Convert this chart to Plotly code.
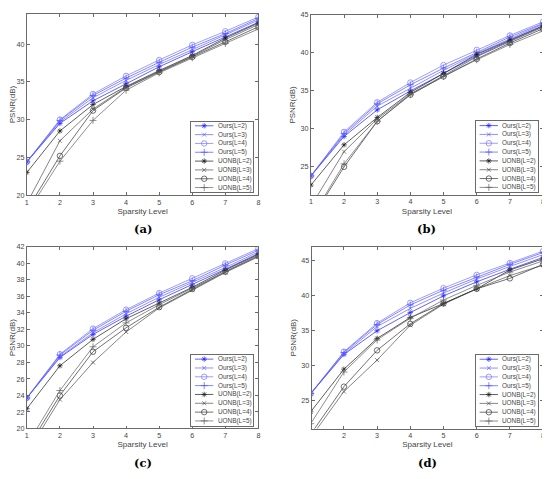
import plotly.graph_objects as go

# sparsity levels shared by every panel
SPARSITY = [1, 2, 3, 4, 5, 6, 7, 8]

# panel (a)
ours_a_L2 = [24.4, 29.5, 32.5, 34.8, 37.0, 39.0, 41.0, 42.9]
ours_a_L3 = [24.4, 29.7, 32.9, 35.2, 37.3, 39.3, 41.2, 43.2]
ours_a_L4 = [24.4, 30.0, 33.4, 35.8, 37.9, 39.9, 41.7, 43.6]
ours_a_L5 = [24.4, 29.9, 33.2, 35.5, 37.6, 39.6, 41.4, 43.4]
uonb_a_L2 = [23.0, 28.5, 32.0, 34.4, 36.5, 38.5, 40.8, 42.8]
uonb_a_L3 = [18.9, 27.2, 31.4, 34.3, 36.4, 38.4, 40.6, 42.6]
uonb_a_L4 = [18.0, 25.2, 31.2, 34.2, 36.3, 38.3, 40.3, 42.3]
uonb_a_L5 = [17.6, 24.5, 29.9, 33.9, 36.2, 38.2, 40.1, 42.0]

# panel (b)
ours_b_L2 = [23.8, 29.0, 32.5, 35.0, 37.3, 39.6, 41.6, 43.5]
ours_b_L3 = [23.8, 29.2, 33.0, 35.4, 37.7, 39.9, 41.9, 43.8]
ours_b_L4 = [23.8, 29.6, 33.5, 36.1, 38.4, 40.4, 42.3, 44.1]
ours_b_L5 = [23.8, 29.4, 33.3, 35.8, 38.0, 40.1, 42.1, 43.9]
uonb_b_L2 = [22.6, 27.9, 31.5, 34.8, 37.3, 39.8, 41.7, 43.6]
uonb_b_L3 = [19.8, 27.0, 31.3, 34.6, 37.0, 39.5, 41.5, 43.4]
uonb_b_L4 = [18.0, 25.0, 31.0, 34.5, 36.9, 39.2, 41.3, 43.2]
uonb_b_L5 = [18.2, 25.4, 31.0, 34.5, 36.9, 39.1, 41.1, 42.9]

# panel (c)
ours_c_L2 = [23.7, 28.6, 31.4, 33.6, 35.6, 37.4, 39.3, 41.2]
ours_c_L3 = [23.7, 28.7, 31.6, 33.9, 35.9, 37.7, 39.5, 41.4]
ours_c_L4 = [23.7, 29.0, 32.1, 34.4, 36.4, 38.2, 40.0, 41.8]
ours_c_L5 = [23.7, 28.9, 31.9, 34.2, 36.2, 37.9, 39.8, 41.6]
uonb_c_L2 = [22.4, 27.6, 30.8, 33.3, 35.2, 37.1, 39.2, 41.1]
uonb_c_L3 = [17.0, 23.5, 28.0, 31.7, 34.6, 36.8, 38.9, 40.8]
uonb_c_L4 = [17.5, 24.0, 29.3, 32.2, 34.7, 36.9, 39.0, 40.9]
uonb_c_L5 = [18.0, 24.6, 29.9, 32.8, 35.0, 37.0, 39.0, 41.0]

# panel (d)
ours_d_L2 = [26.0, 31.6, 35.0, 37.6, 40.0, 42.0, 43.8, 45.5]
ours_d_L3 = [26.0, 31.7, 35.6, 38.2, 40.4, 42.4, 44.2, 45.9]
ours_d_L4 = [26.0, 32.0, 36.1, 39.0, 41.1, 43.0, 44.7, 46.4]
ours_d_L5 = [26.0, 31.9, 35.9, 38.7, 40.8, 42.7, 44.5, 46.2]
uonb_d_L2 = [23.4, 29.5, 33.9, 36.9, 38.9, 41.0, 43.7, 45.3]
uonb_d_L3 = [19.7, 26.3, 30.8, 35.8, 38.8, 41.0, 42.9, 44.4]
uonb_d_L4 = [20.2, 27.0, 32.2, 36.0, 38.9, 41.0, 42.5, 44.5]
uonb_d_L5 = [21.7, 29.1, 33.7, 36.8, 39.4, 41.5, 43.4, 45.0]

SERIES_NAMES = ["Ours(L=2)", "Ours(L=3)", "Ours(L=4)", "Ours(L=5)",
                "UONB(L=2)", "UONB(L=3)", "UONB(L=4)", "UONB(L=5)"]
CAPTIONS = ["(a)", "(b)", "(c)", "(d)"]
Y_TICKS = [[20, 25, 30, 35, 40], [25, 30, 35, 40, 45],
           [20, 22, 24, 26, 28, 30, 32, 34, 36, 38, 40, 42], [25, 30, 35, 40, 45]]

panels = [
    [ours_a_L2, ours_a_L3, ours_a_L4, ours_a_L5, uonb_a_L2, uonb_a_L3, uonb_a_L4, uonb_a_L5],
    [ours_b_L2, ours_b_L3, ours_b_L4, ours_b_L5, uonb_b_L2, uonb_b_L3, uonb_b_L4, uonb_b_L5],
    [ours_c_L2, ours_c_L3, ours_c_L4, ours_c_L5, uonb_c_L2, uonb_c_L3, uonb_c_L4, uonb_c_L5],
    [ours_d_L2, ours_d_L3, ours_d_L4, ours_d_L5, uonb_d_L2, uonb_d_L3, uonb_d_L4, uonb_d_L5],
]

COLORS = ["#2020ff", "#6262ff", "#7272ff", "#5050ff", "#1a1a1a", "#505050", "#333333", "#5e5e5e"]
SYMBOLS = ["asterisk-open", "x-thin-open", "circle-open", "cross-thin-open"] * 2
SIZES = [4.5, 4, 5.5, 5] * 2

# the page body has an 8px margin, so the figure sits 8px in from the window corner
OFF = 8
W, H = 550 - OFF, 479 - OFF
# plot boxes in window pixels: left, right, top, bottom
BOXES = [(24, 257.7, 10, 194.7), (310.7, 545, 11, 194.5),
         (24, 257.7, 247.5, 432.6), (311.5, 545, 247.5, 432.7)]
X_RANGES = [[1, 8], [1, 8], [1, 8], [1.03, 8]]
Y_RANGES = [[20, 44], [21.3, 45], [20, 42], [21, 47]]
LEG_W, LEG_H = 63, 72

AX_COLOR = "#6a6a6a"
TXT_COLOR = "#454545"
FONT = "Liberation Sans, Arial, sans-serif"


def px_x(v):
    return (v - OFF) / W


def px_y(v):
    return 1 - (v - OFF) / H


fig = go.Figure()
layout = {}
annotations = []

for p, series in enumerate(panels):
    k = p + 1
    lk = p + 5
    l, r, t, b = BOXES[p]
    for s, ys in enumerate(series):
        fig.add_trace(go.Scatter(
            x=SPARSITY, y=ys, mode="lines+markers", name=SERIES_NAMES[s],
            xaxis=f"x{k}", yaxis=f"y{k}", showlegend=False,
            line=dict(color=COLORS[s], width=0.7),
            marker=dict(symbol=SYMBOLS[s], size=SIZES[s], color=COLORS[s],
                        line=dict(color=COLORS[s], width=0.7)),
        ))
    layout[f"xaxis{k}"] = dict(
        domain=[px_x(l), px_x(r)], anchor=f"y{k}", range=X_RANGES[p],
        tickvals=SPARSITY, ticks="inside", ticklen=3, tickwidth=0.6, tickcolor=AX_COLOR,
        showline=True, linecolor=AX_COLOR, linewidth=0.8, mirror="allticks",
        showgrid=False, zeroline=False, tickfont=dict(size=7.2, color=TXT_COLOR),
        title=dict(text="Sparsity Level", font=dict(size=8, color=TXT_COLOR), standoff=2),
    )
    layout[f"yaxis{k}"] = dict(
        domain=[px_y(b), px_y(t)], anchor=f"x{k}", range=Y_RANGES[p],
        tickvals=Y_TICKS[p], ticks="inside", ticklen=3, tickwidth=0.6, tickcolor=AX_COLOR,
        showline=True, linecolor=AX_COLOR, linewidth=0.8, mirror="allticks",
        showgrid=False, zeroline=False, tickfont=dict(size=7.2, color=TXT_COLOR),
        title=dict(text="PSNR(dB)", font=dict(size=8, color=TXT_COLOR), standoff=3),
    )

    # legend box drawn as a small overlay subplot
    lr = r - 5
    lb = b - 3
    layout[f"xaxis{lk}"] = dict(
        domain=[px_x(lr - LEG_W), px_x(lr)], anchor=f"y{lk}", range=[0, LEG_W],
        showline=True, linecolor=AX_COLOR, linewidth=0.8, mirror=True,
        showgrid=False, zeroline=False, showticklabels=False, ticks="", fixedrange=True,
    )
    layout[f"yaxis{lk}"] = dict(
        domain=[px_y(lb), px_y(lb - LEG_H)], anchor=f"x{lk}", range=[LEG_H, 0],
        showline=True, linecolor=AX_COLOR, linewidth=0.8, mirror=True,
        showgrid=False, zeroline=False, showticklabels=False, ticks="", fixedrange=True,
    )
    for s, name in enumerate(SERIES_NAMES):
        row_y = 4.3 + 9 * s
        fig.add_trace(go.Scatter(
            x=[4, 22.5], y=[row_y, row_y], mode="lines", xaxis=f"x{lk}", yaxis=f"y{lk}",
            showlegend=False, hoverinfo="skip", line=dict(color=COLORS[s], width=0.7),
        ))
        fig.add_trace(go.Scatter(
            x=[13.3], y=[row_y], mode="markers", xaxis=f"x{lk}", yaxis=f"y{lk}",
            showlegend=False, hoverinfo="skip",
            marker=dict(symbol=SYMBOLS[s], size=SIZES[s], color=COLORS[s],
                        line=dict(color=COLORS[s], width=0.7)),
        ))
        annotations.append(dict(
            x=25, y=row_y, xref=f"x{lk}", yref=f"y{lk}", text=name, showarrow=False,
            xanchor="left", yanchor="middle", font=dict(size=6.4, color=TXT_COLOR, family=FONT),
        ))

    annotations.append(dict(
        x=px_x((l + r) / 2), y=px_y(b + 35), xref="paper", yref="paper",
        text=f"<b>{CAPTIONS[p]}</b>", showarrow=False, xanchor="center", yanchor="middle",
        font=dict(size=11.5, color="#000000", family="DejaVu Serif, serif"),
    ))

fig.update_layout(
    width=W, height=H, margin=dict(l=0, r=0, t=0, b=0),
    paper_bgcolor="white", plot_bgcolor="white",
    font=dict(family=FONT, color=TXT_COLOR),
    annotations=annotations, showlegend=False,
    **layout,
)

fig.write_html("out.html")
